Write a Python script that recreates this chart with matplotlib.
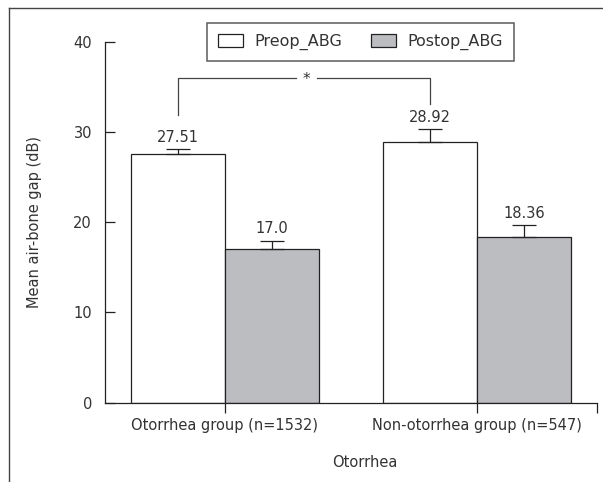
import numpy as np
import matplotlib.pyplot as plt
from matplotlib.lines import Line2D
from matplotlib.patches import Patch

groups = ['Otorrhea group (n=1532)', 'Non-otorrhea group (n=547)']
preop = [27.51, 28.92]
postop = [17.0, 18.36]
preop_err = [0.62, 1.36]
postop_err = [0.96, 1.36]
preop_lbl = ['27.51', '28.92']
postop_lbl = ['17.0', '18.36']

plt.rcParams['font.family'] = 'DejaVu Sans'
plt.rcParams['font.size'] = 10.5
txt = '#333333'
gray = '#bcbdc1'

fig = plt.figure(figsize=(6.03, 4.82), dpi=100)
ax = fig.add_axes([0.1746, 0.1645, 0.815, 0.749])

x = np.arange(len(groups))
w = 0.372

ax.bar(x - w/2, preop, w, color='white', edgecolor='#222222', linewidth=0.9)
ax.bar(x + w/2, postop, w, color=gray, edgecolor='#222222', linewidth=0.9)
ax.errorbar(x - w/2, preop, yerr=[np.zeros(2), preop_err], fmt='none',
            ecolor='#222222', elinewidth=0.9, capsize=8.6, capthick=0.9)
ax.errorbar(x + w/2, postop, yerr=[np.zeros(2), postop_err], fmt='none',
            ecolor='#222222', elinewidth=0.9, capsize=8.6, capthick=0.9)

for i in range(len(groups)):
    ax.annotate(preop_lbl[i], (x[i] - w/2, preop[i] + preop_err[i]),
                xytext=(0, 3), textcoords='offset points', ha='center', va='bottom', color=txt)
    ax.annotate(postop_lbl[i], (x[i] + w/2, postop[i] + postop_err[i]),
                xytext=(0, 3), textcoords='offset points', ha='center', va='bottom', color=txt)

# significance bracket
bl, br = x[0] - w/2, x[1] - w/2
top = 36.0
mid = (bl + br) / 2 + 0.01
ax.plot([bl, bl, mid - 0.04], [31.9, top, top], color='#444444', lw=0.9, clip_on=False)
ax.plot([mid + 0.04, br, br], [top, top, 33.1], color='#444444', lw=0.9, clip_on=False)
ax.text(mid, top - 0.15, '*', ha='center', va='center', fontsize=11, color=txt)

ax.set_xlim(-0.4727, 1.4727)
ax.set_ylim(0, 40)
ax.set_yticks([0, 10, 20, 30, 40])
ax.set_xticks([0, 1, 1.4727])
ax.set_xticklabels(groups + [''])
ax.tick_params(axis='y', direction='in', length=7, width=0.9, pad=9.5, colors='#222222', labelcolor=txt)
ax.tick_params(axis='x', direction='out', length=7, width=0.9, pad=4, colors='#222222', labelcolor=txt)
for s in ['top', 'right']:
    ax.spines[s].set_visible(False)
for s in ['left', 'bottom']:
    ax.spines[s].set_linewidth(0.9)
    ax.spines[s].set_color('#222222')

ax.set_ylabel('Mean air-bone gap (dB)', color=txt)
ax.yaxis.set_label_coords(-0.129, 0.5)
ax.set_xlabel('Otorrhea', color=txt)
ax.xaxis.set_label_coords(0.5285, -0.145)

handles = [Patch(facecolor='white', edgecolor='#222222', linewidth=0.9, label='Preop_ABG'),
           Patch(facecolor=gray, edgecolor='#222222', linewidth=0.9, label='Postop_ABG')]
leg = fig.legend(handles=handles, ncol=2, loc='center', bbox_to_anchor=(0.343, 0.877, 0.509, 0.072),
                 mode='expand', borderaxespad=0, fancybox=False, handlelength=1.55, handleheight=0.85,
                 handletextpad=0.7, columnspacing=1.4, borderpad=0.7, fontsize=11.5, labelcolor=txt)
leg.get_frame().set_edgecolor('#333333')
leg.get_frame().set_linewidth(1.1)

# outer frame lines (top and left)
fig.add_artist(Line2D([9/603, 9/603], [0, 1 - 8.3/482], color='#444444', lw=1.0))
fig.add_artist(Line2D([9/603, 1], [1 - 8.3/482, 1 - 8.3/482], color='#444444', lw=1.0))

fig.savefig('out.png', dpi=100)
